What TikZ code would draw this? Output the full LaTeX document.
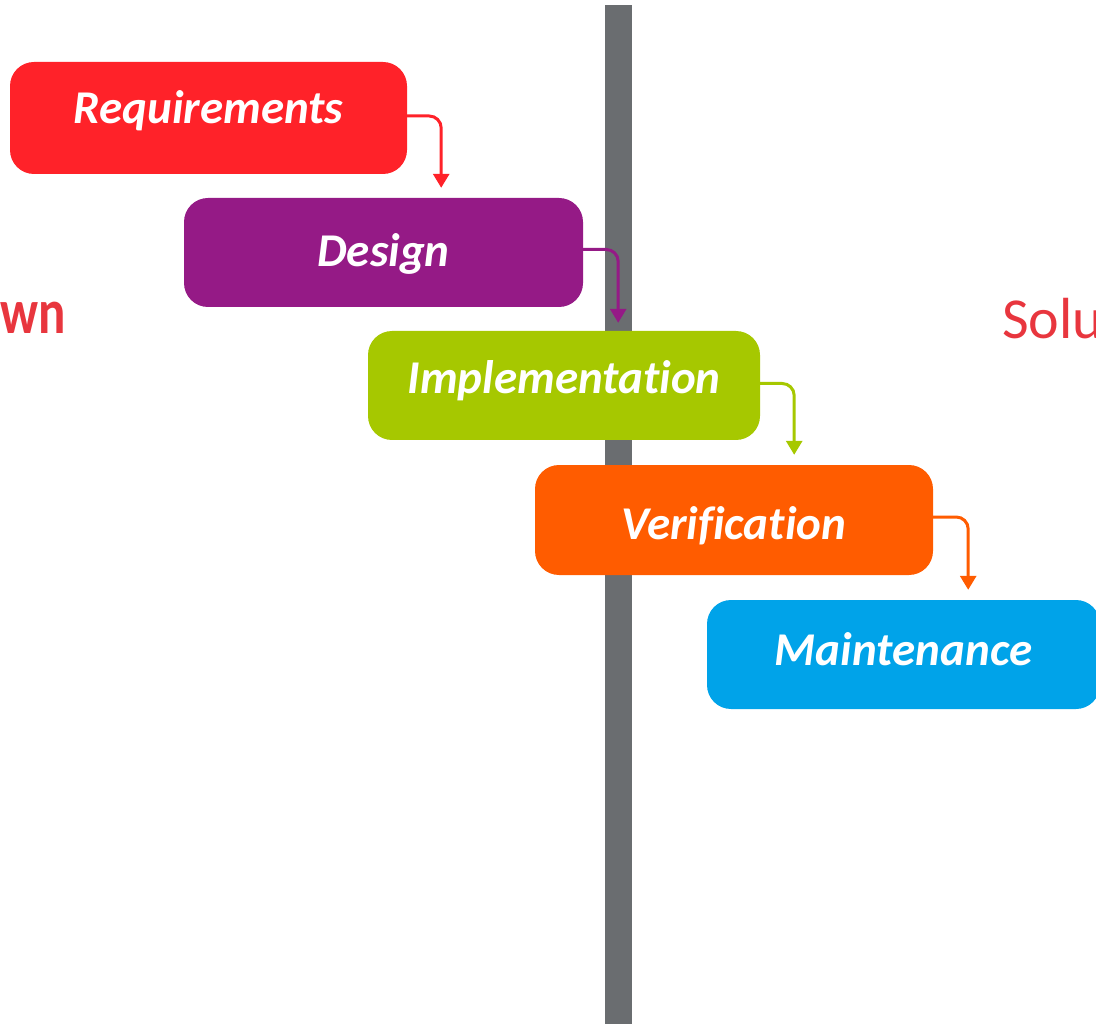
\documentclass[tikz,border=0pt]{standalone}
\usepackage{fontspec}
\setmainfont{Carlito}[Ligatures=NoCommon]
\usepackage{tikz}
\usetikzlibrary{arrows.meta,calc}
\definecolor{reqred}{HTML}{FF2229}
\definecolor{despurple}{HTML}{951A86}
\definecolor{impgreen}{HTML}{A6C800}
\definecolor{verorange}{HTML}{FF5C00}
\definecolor{maiblue}{HTML}{00A3E9}
\definecolor{bargray}{HTML}{6A6D70}
\definecolor{sidered}{HTML}{E8363E}
\newcommand{\stagetext}[1]{\bfseries\itshape #1}
\newcommand{\sidetext}[1]{\scalebox{1}[1.25]{#1}}

\begin{document}
\begin{tikzpicture}[x=1pt,y=-1pt,
        stagebox/.style={rounded corners=24pt, text=white, minimum width=397pt,
            minimum height=110pt, inner sep=0pt, text depth=0pt,
            font=\fontsize{47}{50}\selectfont},
        flow/.style={line width=3pt, rounded corners=12pt,
            -{Triangle[width=16pt,length=14pt]}}]
                    \useasboundingbox (0,0) rectangle (1096,1024);
                    \clip (0,0) rectangle (1096,1024);
                    % timeline bar
                    \fill[bargray] (605,5) rectangle (632,1024);
                    \node[anchor=base west, text=sidered, inner sep=0pt,
                        font=\fontsize{51}{54}\selectfont\bfseries] (wn) at (0,334) {\sidetext{wn}};
                    \node[anchor=base west, text=sidered, inner sep=0pt,
                        font=\fontsize{58}{62}\selectfont] (solu) at (1002,339) {Solu};
                    % the five stages (text height sets how far the baseline sits below the middle)
                    \node[stagebox, fill=reqred, minimum height=112pt, text height=12pt] (req) at (208.5,118) {\stagetext{Requirements}};
                    \node[stagebox, fill=despurple, minimum width=399pt, minimum height=109pt, text height=28pt] (des) at (383.5,252.5) {\stagetext{Design}};
                    \node[stagebox, fill=impgreen, minimum width=392pt, minimum height=109pt, text height=16pt] (imp) at (564,385.5) {\stagetext{Implementation}};
                    \node[stagebox, fill=verorange, minimum width=398pt, text height=38pt] (ver) at (734,520) {\stagetext{Verification}};
                    \node[stagebox, fill=maiblue, minimum width=393pt, minimum height=109pt, text height=22pt] (mai) at (903.5,654.5) {\stagetext{Maintenance}};
                    \draw[flow, reqred] ([yshift=2pt]req.east) -| ($(req.east |- des.north)+(34,-10)$);
                    \draw[flow, despurple] ([yshift=3pt]des.east) -| ($(des.east |- imp.north)+(35,-8)$);
                    \draw[flow, impgreen] ([yshift=2pt]imp.east) -| ($(imp.east |- ver.north)+(34,-10)$);
                    \draw[flow, verorange] ([yshift=3pt]ver.east) -| ($(ver.east |- mai.north)+(35,-10)$);
\end{tikzpicture}
\end{document}
